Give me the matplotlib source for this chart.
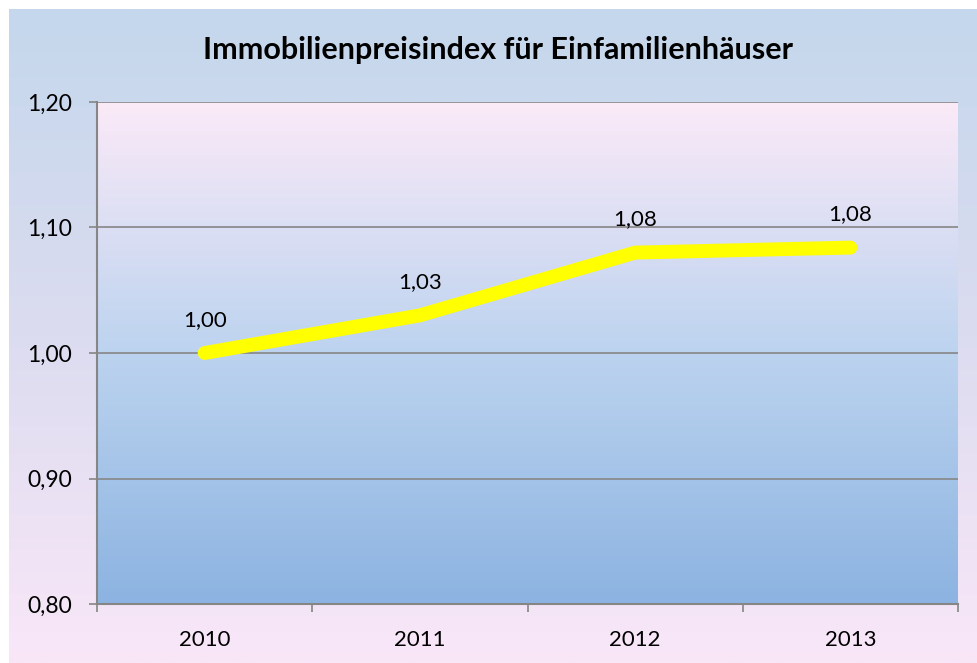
import numpy as np
from matplotlib import pyplot as plt
from matplotlib.colors import LinearSegmentedColormap

plt.rcParams['font.family'] = ['Lato', 'DejaVu Sans']

# chart data
years = ['2010', '2011', '2012', '2013']
index_values = [1.000, 1.030, 1.080, 1.084]
value_labels = ['1,00', '1,03', '1,08', '1,08']
y_ticks = [0.80, 0.90, 1.00, 1.10, 1.20]
y_tick_labels = ['0,80', '0,90', '1,00', '1,10', '1,20']

fig = plt.figure(figsize=(9.78, 6.63), dpi=100)
fig.patch.set_facecolor('white')

# outer chart area with gradient (blue top -> pink bottom)
bg = fig.add_axes([9 / 978, 0, 969 / 978, 654 / 663])
bg_cmap = LinearSegmentedColormap.from_list('bg', ['#c4d7ec', '#dcdcf0', '#f9e7f8'])
bg.imshow(np.linspace(0, 1, 256).reshape(-1, 1), aspect='auto', cmap=bg_cmap,
          extent=[0, 1, 0, 1], origin='upper')
bg.axis('off')

# plot area
ax = fig.add_axes([97 / 978, 1 - 604 / 663, (958 - 97) / 978, (604 - 102) / 663])
ax.set_xlim(-0.5, 3.5)
ax.set_ylim(0.80, 1.20)
pa_cmap = LinearSegmentedColormap.from_list('pa', ['#fbeaf8', '#bcd3ef', '#8cb3e1'])
ax.imshow(np.linspace(0, 1, 256).reshape(-1, 1), aspect='auto', cmap=pa_cmap,
          extent=[-0.5, 3.5, 0.80, 1.20], origin='upper', zorder=0)

for yv in y_ticks[1:]:
    ax.axhline(yv, color='#868686', lw=1.2, zorder=1)

x = np.arange(len(years))
ax.plot(x, index_values, color='#ffff00', lw=10, solid_capstyle='round',
        solid_joinstyle='round', zorder=3)

for xi, yi, lab in zip(x, index_values, value_labels):
    ax.annotate(lab, (xi, yi), xytext=(0, 24), textcoords='offset points',
                ha='center', va='center', fontsize=16, color='black', zorder=4)

ax.set_yticks(y_ticks)
ax.set_yticklabels(y_tick_labels, fontsize=16.5)
ax.set_xticks(x)
ax.set_xticklabels(years, fontsize=16)
ax.set_xticks(np.arange(-0.5, 4, 1), minor=True)
ax.tick_params(axis='x', which='major', length=0, pad=19)
ax.tick_params(axis='x', which='minor', length=6, color='#868686', width=1.2)
ax.tick_params(axis='y', length=6, color='#868686', width=1.2, pad=12)

for s in ['top', 'right']:
    ax.spines[s].set_visible(False)
for s in ['left', 'bottom']:
    ax.spines[s].set_color('#868686')
    ax.spines[s].set_linewidth(1.5)

fig.text(498 / 978, 1 - 50 / 663, 'Immobilienpreisindex für Einfamilienhäuser',
         ha='center', va='center', fontsize=22, fontweight='bold')

fig.savefig('out.png', dpi=100)
